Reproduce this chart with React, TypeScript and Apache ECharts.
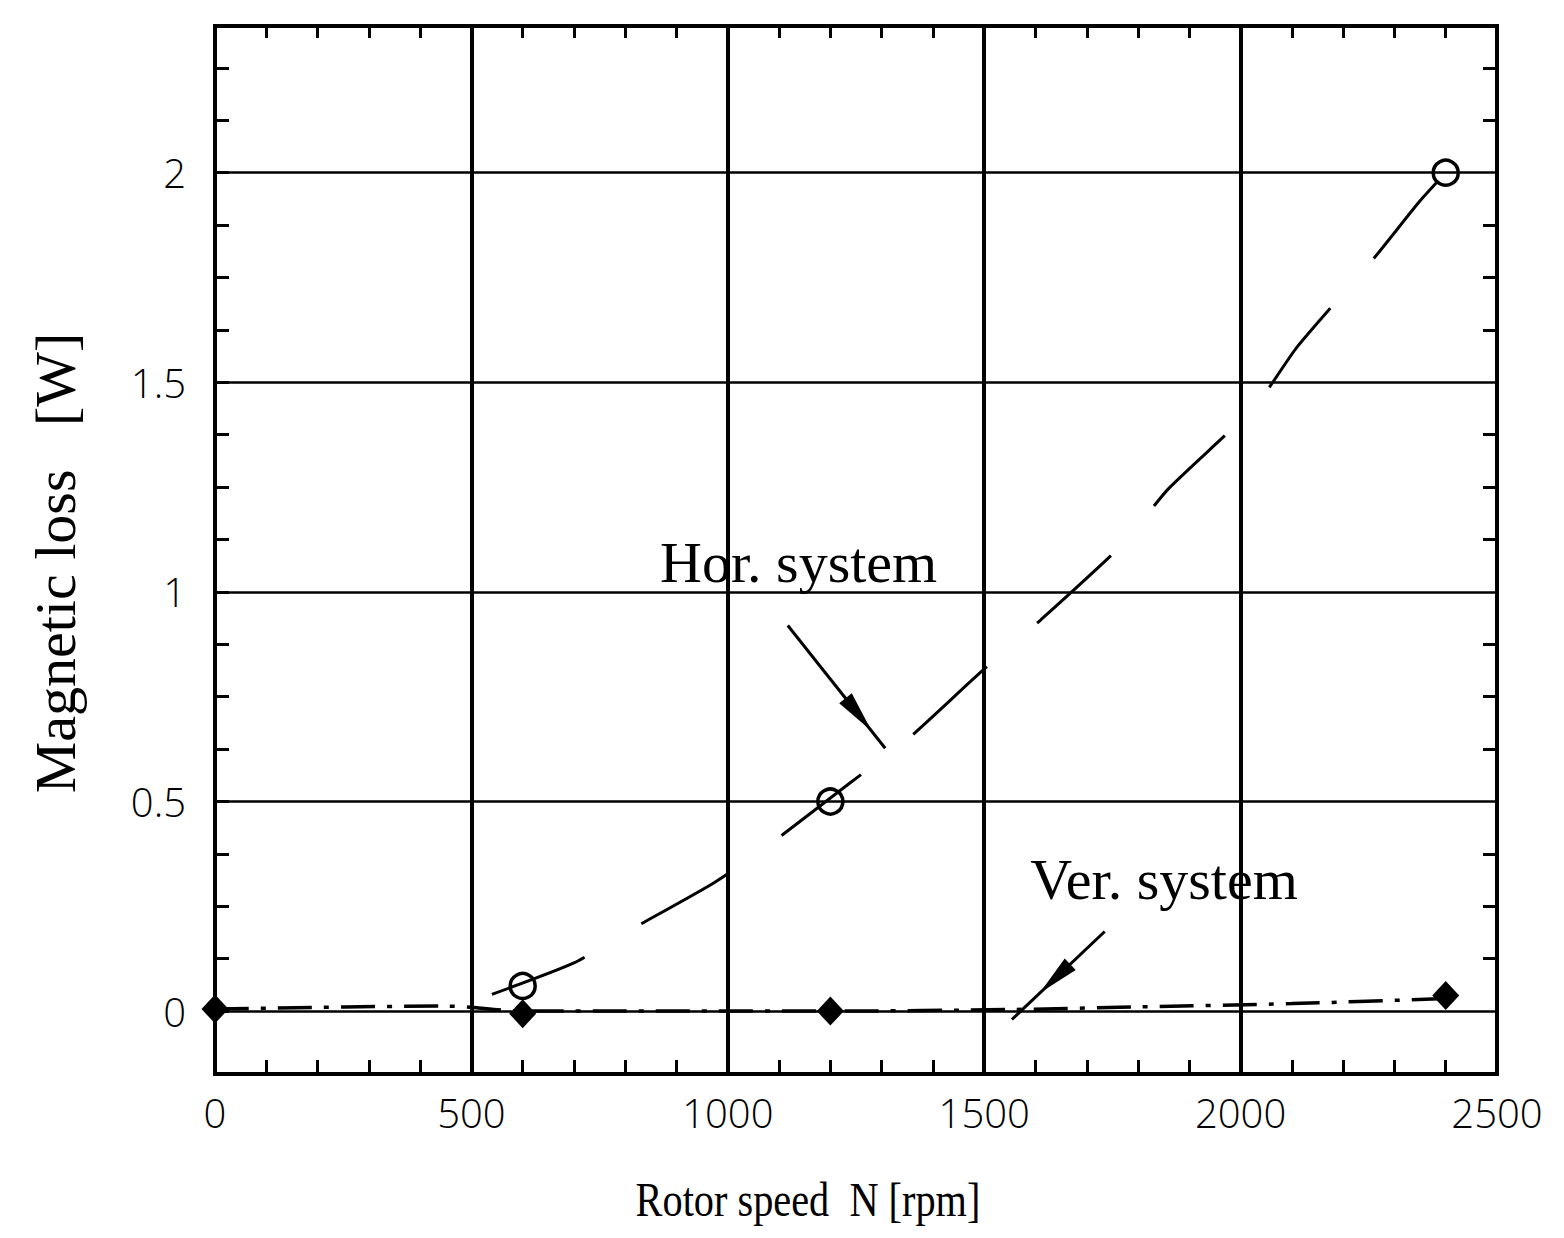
import React, { useEffect, useRef } from 'react';
import * as echarts from 'echarts';

// Axis ticks
const yMajorTicks = [0, 0.5, 1, 1.5, 2];
const yMinorTicks = [0.125, 0.25, 0.375, 0.625, 0.75, 0.875, 1.125, 1.25, 1.375, 1.625, 1.75, 1.875, 2.125, 2.25];

// Measured points
const horSpeed = [600, 1200, 2400];
const horLoss = [0.06, 0.5, 2.0];
const verSpeed = [0, 600, 1200, 2400];
const verLoss = [0.005, -0.006, 0.0, 0.037];

// Fitted curves
const horFitSpeed = [540, 700, 800, 970, 1080, 1240, 1350, 1490, 1610, 1770, 1860, 2030, 2110, 2260, 2350, 2400];
const horFitLoss = [0.04, 0.115, 0.187, 0.304, 0.396, 0.546, 0.648, 0.805, 0.933, 1.114, 1.247, 1.445, 1.584, 1.796, 1.933, 2.0];
const verFitSpeed = [0, 450, 600, 1200, 1560, 1800, 2100, 2400];
const verFitLoss = [0.005, 0.012, 0.0, 0.0, 0.004, 0.01, 0.018, 0.03];

const zip = (xs: number[], ys: number[]) => xs.map((x, i) => [x, ys[i]]);

const SERIF = '"Liberation Serif", "DejaVu Serif", serif';
const SANS = '"Open Sans", "DejaVu Sans", sans-serif';

export default function App() {
  const ref = useRef<HTMLDivElement>(null);

  useEffect(() => {
    if (!ref.current) return;
    const chart = echarts.init(ref.current, undefined, { renderer: 'svg' });

    const yRange = { min: -0.15, max: 2.35 };
    const xRange = { min: 0, max: 2500, interval: 500 };
    const tickStyle = { color: '#000', width: 3 };

    chart.setOption({
      animation: false,
      backgroundColor: '#fff',
      grid: {
        left: 215,
        right: 67,
        top: 26,
        bottom: 164,
        show: true,
        borderColor: '#000',
        borderWidth: 4,
        backgroundColor: 'transparent',
      },
      xAxis: [
        {
          type: 'value',
          position: 'bottom',
          ...xRange,
          axisLine: { show: false, onZero: false },
          axisTick: { show: true, inside: true, length: 14, lineStyle: tickStyle },
          minorTick: { show: true, splitNumber: 5, length: 14, lineStyle: tickStyle },
          splitLine: { show: true, lineStyle: { color: '#000', width: 4 } },
          axisLabel: {
            show: true,
            margin: 18,
            color: '#000',
            fontFamily: SANS,
            fontWeight: 300,
            fontSize: 40,
            formatter: (v: number) => String(v),
          },
        },
        {
          type: 'value',
          position: 'top',
          ...xRange,
          axisLine: { show: false, onZero: false },
          axisTick: { show: true, inside: true, length: 12, lineStyle: tickStyle },
          minorTick: { show: true, splitNumber: 5, length: 12, lineStyle: tickStyle },
          splitLine: { show: false },
          axisLabel: { show: false },
        },
      ],
      yAxis: [
        {
          type: 'value',
          position: 'left',
          ...yRange,
          axisLine: { show: false, onZero: false },
          axisTick: { show: true, inside: true, length: 14, customValues: yMajorTicks, lineStyle: tickStyle },
          splitLine: { show: true, lineStyle: { color: '#000', width: 2.5 } },
          axisLabel: {
            show: true,
            customValues: yMajorTicks,
            margin: 29,
            color: '#000',
            fontFamily: SANS,
            fontWeight: 300,
            fontSize: 40,
            padding: [0, 0, 18, 0],
            formatter: (v: number) => String(v),
          },
        },
        {
          type: 'value',
          position: 'left',
          ...yRange,
          axisLine: { show: false, onZero: false },
          axisTick: { show: true, inside: true, length: 14, customValues: yMinorTicks, lineStyle: tickStyle },
          splitLine: { show: false },
          axisLabel: { show: false },
        },
        {
          type: 'value',
          position: 'right',
          ...yRange,
          axisLine: { show: false, onZero: false },
          axisTick: { show: true, inside: true, length: 14, customValues: yMinorTicks, lineStyle: tickStyle },
          splitLine: { show: false },
          axisLabel: { show: false },
        },
      ],
      series: [
        {
          name: 'Hor. system fit',
          type: 'line',
          xAxisIndex: 0,
          yAxisIndex: 0,
          data: zip(horFitSpeed, horFitLoss),
          showSymbol: false,
          symbol: 'none',
          smooth: 0.2,
          lineStyle: { color: '#000', width: 3, type: [100, 66] },
          z: 3,
        },
        {
          name: 'Ver. system fit',
          type: 'line',
          xAxisIndex: 0,
          yAxisIndex: 0,
          data: zip(verFitSpeed, verFitLoss),
          showSymbol: false,
          symbol: 'none',
          smooth: 0.3,
          lineStyle: { color: '#000', width: 3.5, type: [34, 12, 5, 12] },
          z: 3,
        },
        {
          name: 'Hor. system',
          type: 'scatter',
          xAxisIndex: 0,
          yAxisIndex: 0,
          data: zip(horSpeed, horLoss),
          symbol: 'circle',
          symbolSize: 25,
          itemStyle: { color: 'transparent', borderColor: '#000', borderWidth: 3.5, opacity: 1 },
          z: 4,
        },
        {
          name: 'Ver. system',
          type: 'scatter',
          xAxisIndex: 0,
          yAxisIndex: 0,
          data: zip(verSpeed, verLoss),
          symbol: 'diamond',
          symbolSize: [27, 29],
          itemStyle: { color: '#000', opacity: 1 },
          z: 4,
        },
      ],
    });

    // Annotations placed in data coordinates
    const toPx = (p: number[]) =>
      chart.convertToPixel({ xAxisIndex: 0, yAxisIndex: 0 }, p) as number[];

    const arrow = (from: number[], to: number[], headAt: number) => {
      const a = toPx(from);
      const b = toPx(to);
      const dx = b[0] - a[0];
      const dy = b[1] - a[1];
      const len = Math.hypot(dx, dy);
      const ux = dx / len;
      const uy = dy / len;
      const tip = [a[0] + dx * headAt, a[1] + dy * headAt];
      const headLen = 42;
      const headHalf = 8;
      const base = [tip[0] - ux * headLen, tip[1] - uy * headLen];
      return [
        {
          type: 'line',
          shape: { x1: a[0], y1: a[1], x2: b[0], y2: b[1] },
          style: { stroke: '#000', lineWidth: 3 },
          z: 10,
        },
        {
          type: 'polygon',
          shape: {
            points: [
              tip,
              [base[0] - uy * headHalf, base[1] + ux * headHalf],
              [base[0] + uy * headHalf, base[1] - ux * headHalf],
            ],
          },
          style: { fill: '#000' },
          z: 10,
        },
      ];
    };

    const label = (text: string, at: number[]) => {
      const p = toPx(at);
      return {
        type: 'text',
        x: p[0],
        y: p[1],
        style: {
          text,
          fill: '#000',
          font: `58px ${SERIF}`,
          align: 'left',
          verticalAlign: 'bottom',
          textAlign: 'left',
          textVerticalAlign: 'bottom',
        },
        z: 10,
      };
    };

    chart.setOption({
      graphic: [
        label('Hor. system', [868, 1.0]),
        ...arrow([1117, 0.92], [1307, 0.627], 0.86),
        label('Ver. system', [1590, 0.245]),
        ...arrow([1735, 0.19], [1554, -0.02], 0.7),
        {
          type: 'text',
          x: 55,
          y: 563,
          rotation: Math.PI / 2,
          style: {
            text: 'Magnetic loss   [W]',
            fill: '#000',
            font: `58px ${SERIF}`,
            align: 'center',
            verticalAlign: 'middle',
            textAlign: 'center',
            textVerticalAlign: 'middle',
          },
        },
        {
          type: 'text',
          x: 808,
          y: 1200,
          scaleX: 0.84,
          style: {
            text: 'Rotor speed  N [rpm]',
            fill: '#000',
            font: `48px ${SERIF}`,
            align: 'center',
            verticalAlign: 'middle',
            textAlign: 'center',
            textVerticalAlign: 'middle',
          },
        },
      ],
    });

    return () => chart.dispose();
  }, []);

  return (
    <div
      ref={ref}
      style={{ position: 'fixed', left: 0, top: 0, width: 1564, height: 1238 }}
    />
  );
}
